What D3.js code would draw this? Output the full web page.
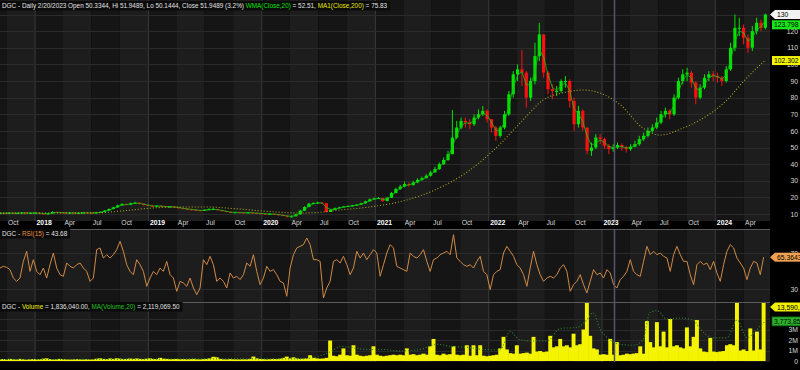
<!DOCTYPE html>
<html>
<head>
<meta charset="utf-8">
<script src="https://cdn.jsdelivr.net/npm/d3@7/dist/d3.min.js"></script>
<style>
  body { margin: 0; background: #000; }
  svg { display: block; font-family: "Liberation Sans", Arial, sans-serif; }
</style>
</head>
<body>
<div id="chart"></div>
<script>
// price candles, one every 14 days (open = previous close)
var candleStart = "2017-09-11";
var candleStep = 14;
var closes = [10.6,10.5,10.7,10.4,10.6,10.8,10.5,10.6,10.7,10.4,10.1,10.3,11.2,11.0,10.8,10.6,10.7,10.5,10.6,10.8,10.7,10.6,10.9,
  11.2,12.0,13.0,14.0,15.2,16.0,15.6,16.4,16.8,16.2,15.4,15.0,14.6,14.9,14.7,14.2,14.5,14.1,13.5,13.2,12.8,12.6,12.3,12.0,12.5,12.9,13.0,
  12.3,11.8,11.3,10.8,11.0,10.9,10.7,10.9,10.6,10.4,10.2,10.0,10.1,9.8,9.5,9.0,8.4,8.6,9.8,12.0,14.2,16.2,16.6,16.9,16.5,
  11.2,12.6,13.5,14.0,14.5,14.8,15.1,15.6,16.4,17.6,18.8,19.4,19.6,17.8,19.8,22.6,25.0,
  26.5,28.0,27.5,29.0,30.5,31.5,33.0,35.0,37.0,40.0,42.5,46.0,
  56,62,66,65,64,68,70,72,67,62,57,62,70,82,94,97,95,80,90,105,118,95,85,84,84,90,90,78,64,72,62,48,50,56,55,
  51,49,50,51.5,50,49,50.5,52,55,57,60,62,65,70,72,70,80,90,94,95,89,80,86,92,94,93,92,90,97,110,122,122,116,110,120,125,122,130];
var highs = [10.9,10.8,11.0,10.8,10.9,11.1,10.9,10.9,11.0,10.8,10.5,10.6,11.6,11.4,11.1,10.9,11.0,10.9,10.9,11.1,11.0,10.9,11.3,
  11.5,12.4,13.4,14.4,15.6,16.5,16.3,16.9,17.3,17.0,16.3,15.7,15.3,15.4,15.2,14.9,14.9,14.7,14.3,13.8,13.5,13.1,12.8,12.5,12.9,13.4,13.5,
  13.1,12.4,11.9,11.4,11.3,11.3,11.1,11.2,11.0,10.8,10.6,10.4,10.5,10.3,10.0,9.7,9.2,9.2,10.2,12.5,14.7,16.7,17.1,17.4,17.2,
  16.5,13.0,13.9,14.4,14.9,15.2,15.5,16.0,16.8,18.0,19.3,19.9,20.2,19.7,20.3,23.2,25.8,
  27.5,29.5,29.0,30.0,31.5,32.5,34.0,36.0,38.5,41.0,44.0,48.0,
  72.5,66,68,68,67,70,73,75,73,67,63,63,72,84,96,100,108.6,96,92,113,125,118,96,88,87,91,93,91,80,75,73,62,53,58,58,
  56,52,52,53,52.5,51,52,54,57,59,62,64,68,72,74,73,82,92,97,98,96,90,88,94,96,96,95,93,99,113,130,128,124,118,123,128,127,130.5];
var lows = [10.3,10.2,10.4,10.1,10.3,10.5,10.2,10.3,10.4,10.0,9.8,10.0,10.3,10.7,10.5,10.3,10.4,10.2,10.3,10.5,10.4,10.3,10.5,
  10.7,11.0,11.8,12.8,13.8,15.0,15.2,15.3,16.0,15.8,15.0,14.7,14.2,14.3,14.3,13.9,13.9,13.7,13.2,12.9,12.5,12.2,11.9,11.7,11.8,12.3,12.6,
  12.1,11.5,11.0,10.5,10.6,10.6,10.4,10.5,10.3,10.1,9.9,9.7,9.7,9.5,9.1,8.6,7.8,8.0,8.5,9.6,11.8,14.0,16.0,16.3,16.0,
  11.0,11.2,12.5,13.4,14.0,14.4,14.7,15.1,15.5,16.3,17.5,18.7,19.0,17.3,17.6,19.6,22.4,
  24.5,26.0,26.5,27.0,28.5,30.0,31.5,32.5,35.0,36.5,39.5,42.0,
  46,55,61,62,61,63,67,69,65,59,54,56,61,69,80,90,87,74,78,88,102,92,82,79,81,83,86,74,60,62,60,46,45,49,52,
  49,46,47.5,49,48,47,48,50,51,54,56,59,61,64,68,67,69,79,88,90,86,76,79,85,90,90,89,87,89,96,108,117,112,107,108,118,120,121];

// rsi and volume samples, every ~10.74 days
var rsiStart = "2017-09-10";
var rsiStep = 10.74;
var rsiVals = [53.3,55.2,54.1,51.5,42.2,38.5,42.2,60.7,71.9,49.6,
  62.6,49.6,45.9,53.3,42.2,57.0,70.0,53.3,45.9,44.1,
  58.9,55.2,53.3,57.0,58.9,53.3,49.6,38.5,42.2,73.7,
  75.6,64.4,68.1,64.4,68.1,73.7,83.0,71.9,57.0,49.6,
  45.9,62.6,57.0,49.6,33.0,42.2,49.6,45.9,53.3,49.6,
  60.7,45.9,42.2,27.4,38.5,36.7,33.0,42.2,31.1,23.7,
  31.1,62.6,57.0,66.3,57.0,38.5,42.2,38.5,31.1,47.8,
  42.2,44.1,40.4,45.9,58.9,55.2,68.1,49.6,34.8,42.2,
  55.2,49.6,51.5,45.9,38.5,36.7,21.9,53.3,68.1,75.6,
  77.4,79.3,86.7,79.3,62.6,62.6,60.7,20.0,31.1,38.5,
  60.7,62.6,58.9,66.3,57.0,45.9,53.3,71.9,64.4,70.0,
  62.6,68.1,73.7,70.0,44.1,57.0,70.0,79.3,75.6,55.2,
  53.3,51.5,49.6,70.0,66.3,64.4,68.1,73.7,60.7,49.6,
  62.6,64.4,68.1,70.0,71.9,68.1,90.4,64.4,60.7,57.0,
  55.2,57.0,53.3,60.7,66.3,49.6,45.9,29.3,45.9,49.6,
  51.5,70.0,77.4,71.9,66.3,57.0,53.3,45.9,33.0,53.3,
  71.9,57.0,45.9,38.5,42.2,44.1,42.2,45.9,53.3,57.0,
  49.6,27.4,34.8,38.5,45.9,34.8,25.6,38.5,51.5,45.9,
  47.8,42.2,51.5,47.8,34.8,31.1,40.4,44.1,49.6,62.6,
  49.6,45.9,44.1,60.7,77.4,68.1,71.9,68.1,70.0,66.3,
  64.4,49.6,68.1,77.4,68.1,60.7,60.7,45.9,34.8,57.0,
  60.7,57.0,58.9,51.5,60.7,47.8,38.5,57.0,71.9,79.3,
  75.6,64.4,58.9,53.3,40.4,53.3,60.7,58.9,45.9,65.4];
// volume in millions
var volVals = [0.15,0.18,0.12,0.2,0.15,0.14,0.2,0.16,0.12,0.15,
  0.18,0.14,0.16,0.22,0.25,0.18,0.14,0.15,0.2,0.16,
  0.14,0.13,0.15,0.17,0.15,0.14,0.16,0.13,0.15,0.22,
  0.25,0.2,0.18,0.24,0.2,0.26,0.22,0.18,0.2,0.23,
  0.2,0.24,0.2,0.18,0.22,0.25,0.2,0.18,0.3,0.22,
  0.2,0.17,0.18,0.2,0.16,0.18,0.15,0.17,0.2,0.16,
  0.15,0.18,0.2,0.25,0.4,0.35,0.2,0.16,0.15,0.18,
  0.16,0.15,0.14,0.16,0.15,0.2,0.42,0.25,0.2,0.18,
  0.15,0.17,0.2,0.18,0.22,0.3,0.42,0.25,0.35,0.25,
  0.2,0.22,0.25,0.55,0.3,0.25,0.22,0.24,0.3,1.95,
  0.5,0.45,0.6,1.2,0.55,0.5,1.5,0.6,0.5,0.45,
  0.5,0.55,1.4,0.6,0.5,0.45,0.5,0.55,0.6,0.55,
  0.6,0.55,1.2,0.6,0.65,0.55,0.6,0.7,0.6,1.4,
  2.1,0.6,0.55,0.7,0.6,0.65,1.4,0.6,0.55,0.6,
  1.5,0.5,1.5,0.55,1.5,0.5,0.45,0.5,0.55,0.6,
  1.2,2.3,1.1,0.75,0.7,1.5,0.7,0.75,0.8,0.7,
  2.3,0.9,0.95,0.85,0.9,2.4,1.3,1.4,2.1,1.4,
  1.5,1.3,2.6,1.5,1.6,3.0,6.0,2.4,1.2,1.1,
  0.6,0.65,0.6,2.1,0.6,1.8,0.55,0.6,0.7,0.65,
  0.7,0.75,1.4,0.7,3.8,1.8,1.3,3.7,1.4,2.8,
  1.3,4.0,1.4,1.5,1.3,1.2,3.2,1.4,2.3,3.9,
  1.2,0.9,0.85,2.2,0.9,0.85,0.9,0.95,1.5,1.6,
  1.5,6.0,1.0,1.1,0.95,3.1,1.0,2.8,1.1,13.59];

// 200 day moving average (dotted yellow)
var maDates = ["2017-09-10","2018-02-18","2018-07-29","2018-10-18","2019-01-06","2019-03-28","2019-07-09","2019-10-07","2020-01-18","2020-05-03","2020-07-07","2020-08-17","2020-12-05","2021-03-21","2021-07-06","2021-11-02","2022-01-28","2022-04-21","2022-06-25","2022-09-10","2022-11-01","2022-12-25","2023-02-28","2023-05-13","2023-07-07","2023-09-19","2023-11-12","2024-02-07","2024-03-30","2024-05-24","2024-06-09"];
var maVals = [10.5,10.6,10.8,12.0,13.5,14.2,14.2,13.2,11.6,10.6,11.0,12.0,14.0,17.4,24.0,36.5,50.3,66.5,78.5,83.4,84.6,82.8,75.8,61.7,57.5,61.7,66.5,78.5,89.4,99.6,102.3];

// volume MA(20) (dotted green), millions
var volMaDates = ["2017-09-10","2018-07-29","2019-06-16","2020-05-03","2020-08-17","2020-09-09","2020-10-11","2020-12-05","2021-01-25","2021-03-21","2021-05-25","2021-07-18","2021-08-29","2021-10-23","2021-12-14","2022-02-06","2022-03-11","2022-04-12","2022-05-24","2022-07-08","2022-08-19","2022-10-12","2022-11-13","2022-12-03","2022-12-25","2023-01-27","2023-02-28","2023-04-11","2023-05-13","2023-06-04","2023-06-27","2023-07-29","2023-09-09","2023-10-21","2023-11-12","2023-12-24","2024-02-07","2024-03-11","2024-04-12","2024-05-01","2024-05-24","2024-06-09"];
var volMaVals = [0.15,0.15,0.2,0.2,1.0,1.4,1.3,1.1,1.1,0.95,1.1,1.6,1.4,1.3,1.1,1.05,2.8,2.0,1.9,1.9,3.1,3.2,3.9,4.6,3.1,2.0,1.6,1.5,2.0,4.6,4.8,4.0,4.1,3.9,3.1,2.2,2.2,3.9,2.2,2.6,3.3,3.77];

var priceTicks = [10,20,30,40,50,60,70,80,90,100,110,120,130];
var rsiTicks = [30,70];
var volTicks = [0,1,2,3,4];
var volTickLabels = ["0","1M","2M","3M","4M"];
var crossDate = "2023-02-08";

// ---- layout ----
var w = 800, h = 370, plotR = 770;
var pTop = 0, pBot = 221, rTop = 229, rBot = 302, vTop = 302, vBot = 362;
var fs = 6.8;    // axis text
var capFs = 6.4; // panel captions

var parse = d3.timeParse("%Y-%m-%d");
var day = 864e5;

var svg = d3.select("#chart").append("svg").attr("width", w).attr("height", h);
svg.append("rect").attr("width", w).attr("height", h).attr("fill", "#000");

var x = d3.scaleTime().domain([new Date(2017, 8, 10), new Date(2024, 5, 25)]).range([0, plotR]);
var yP = d3.scaleLinear().domain([10, 130]).range([214, 14.5]);
var yR = d3.scaleLinear().domain([30, 70]).range([289, 253]);
var yV = d3.scaleLinear().domain([0, 3]).range([361, 329.5]);

var quarters = d3.timeMonth.every(3).range(new Date(2017, 6, 1), new Date(2024, 9, 1));
var years = d3.timeYear.range(new Date(2018, 0, 1), new Date(2025, 0, 1));

function makePanel(name, top, bottom) {
  svg.append("clipPath").attr("id", "clip-" + name)
    .append("rect").attr("x", 0).attr("y", top).attr("width", plotR).attr("height", bottom - top);
  var g = svg.append("g").attr("clip-path", "url(#clip-" + name + ")");
  g.selectAll("rect.band").data(quarters).enter().append("rect")
    .attr("class", "band")
    .attr("x", function(d) { return x(d); })
    .attr("width", function(d) { return x(d3.timeMonth.offset(d, 3)) - x(d); })
    .attr("y", top).attr("height", bottom - top)
    .attr("fill", function(d) { return d.getMonth() % 6 === 3 ? "#1d1d1d" : "#151515"; });
  g.selectAll("line.yr").data(years).enter().append("line")
    .attr("x1", function(d) { return x(d); }).attr("x2", function(d) { return x(d); })
    .attr("y1", top).attr("y2", bottom)
    .attr("stroke", "#3a3a3a").attr("stroke-width", 1);
  return g;
}

function hGrid(g, vals, scale) {
  g.selectAll(null).data(vals).enter().append("line")
    .attr("x1", 0).attr("x2", plotR)
    .attr("y1", function(d) { return Math.round(scale(d)) + 0.5; })
    .attr("y2", function(d) { return Math.round(scale(d)) + 0.5; })
    .attr("stroke", "#2b2b2b").attr("stroke-width", 1);
}

// ---- price panel ----
var gp = makePanel("price", pTop, pBot);
hGrid(gp, priceTicks, yP);

var cStart = parse(candleStart);
var candles = closes.map(function(c, i) {
  var o = i > 0 ? closes[i - 1] : c;
  return { date: new Date(+cStart + i * candleStep * day), o: o, c: c,
           hi: Math.max(highs[i], o, c), lo: Math.min(lows[i], o, c) };
});
var bw = 3.2;
var colorOf = function(d) { return d.c >= d.o ? "#00e400" : "#ff1010"; };

gp.selectAll("line.wick").data(candles).enter().append("line")
  .attr("x1", function(d) { return x(d.date); }).attr("x2", function(d) { return x(d.date); })
  .attr("y1", function(d) { return yP(d.hi); }).attr("y2", function(d) { return yP(d.lo); })
  .attr("stroke", colorOf).attr("stroke-width", 1);
gp.selectAll("rect.body").data(candles).enter().append("rect")
  .attr("x", function(d) { return x(d.date) - bw / 2; })
  .attr("width", bw)
  .attr("y", function(d) { return yP(Math.max(d.o, d.c)); })
  .attr("height", function(d) { return Math.max(1, Math.abs(yP(d.o) - yP(d.c))); })
  .attr("fill", colorOf);

// wma line from the closes (weights 1,2,3)
var wma = candles.map(function(d, i) {
  var a = closes[Math.max(0, i - 2)], b = closes[Math.max(0, i - 1)], c = closes[i];
  return { date: d.date, v: (a + 2 * b + 3 * c) / 6 };
});
gp.append("path").datum(wma)
  .attr("fill", "none").attr("stroke", "#16c016").attr("stroke-width", 0.8)
  .attr("d", d3.line().x(function(d) { return x(d.date); }).y(function(d) { return yP(d.v); }));

var maData = maDates.map(function(d, i) { return { date: parse(d), v: maVals[i] }; });
gp.append("path").datum(maData)
  .attr("fill", "none").attr("stroke", "#a8a820").attr("stroke-width", 1.1)
  .attr("stroke-dasharray", "1,2")
  .attr("d", d3.line().curve(d3.curveMonotoneX).x(function(d) { return x(d.date); }).y(function(d) { return yP(d.v); }));

// ---- rsi panel ----
var gr = makePanel("rsi", rTop, rBot);
hGrid(gr, rsiTicks, yR);
var rStart = parse(rsiStart);
var rsiData = rsiVals.map(function(v, k) { return { date: new Date(+rStart + k * rsiStep * day), v: v }; });
gr.append("path").datum(rsiData)
  .attr("fill", "none").attr("stroke", "#d08a45").attr("stroke-width", 1)
  .attr("d", d3.line().x(function(d) { return x(d.date); }).y(function(d) { return yR(d.v); }));

// ---- volume panel ----
var gv = makePanel("vol", vTop, vBot);
hGrid(gv, volTicks.slice(1), yV);
var volData = volVals.map(function(v, k) { return { date: new Date(+rStart + k * rsiStep * day), v: v }; });
var vw = x(new Date(+rStart + rsiStep * day)) - x(rStart);
gv.selectAll("rect.vol").data(volData).enter().append("rect")
  .attr("x", function(d) { return x(d.date) - vw / 2 - 0.3; })
  .attr("width", vw + 0.6)
  .attr("y", function(d) { return yV(d.v); })
  .attr("height", function(d) { return yV(0) - yV(d.v); })
  .attr("fill", "#f4f400");
var volMaData = volMaDates.map(function(d, i) { return { date: parse(d), v: volMaVals[i] }; });
gv.append("path").datum(volMaData)
  .attr("fill", "none").attr("stroke", "#2e8a2e").attr("stroke-width", 1.1)
  .attr("stroke-dasharray", "1,2")
  .attr("d", d3.line().curve(d3.curveMonotoneX).x(function(d) { return x(d.date); }).y(function(d) { return yV(d.v); }));

// crosshair
var cx = Math.round(x(parse(crossDate))) + 0.5;
[[pTop, pBot], [rTop, rBot], [vTop, vBot]].forEach(function(p) {
  svg.append("line").attr("x1", cx).attr("x2", cx).attr("y1", p[0]).attr("y2", p[1])
    .attr("stroke", "#55556e").attr("stroke-width", 1.5);
});

// panel separators
[rTop, vTop].forEach(function(yy) {
  svg.append("line").attr("x1", 0).attr("x2", plotR).attr("y1", yy + 0.5).attr("y2", yy + 0.5)
    .attr("stroke", "#5a5a5a").attr("stroke-width", 1);
});

// ---- date axis ----
var qTicks = d3.timeMonth.every(3).range(new Date(2017, 9, 1), new Date(2024, 5, 1));
var xa = svg.append("g").attr("transform", "translate(0," + pBot + ")")
  .call(d3.axisBottom(x).tickValues(qTicks).tickSize(0)
    .tickFormat(function(d) { return d.getMonth() === 0 ? d3.timeFormat("%Y")(d) : d3.timeFormat("%b")(d); }));
xa.select(".domain").remove();
xa.attr("font-family", null).attr("font-size", null);
xa.selectAll("text")
  .attr("text-anchor", "start").attr("x", 1).attr("y", 0).attr("dy", "0.62em")
  .style("font-size", fs + "px")
  .attr("fill", function(d) { return d.getMonth() === 0 ? "#ffffff" : "#d8d8d8"; })
  .attr("font-weight", function(d) { return d.getMonth() === 0 ? "bold" : "normal"; });

// ---- right axes ----
function rightAxis(scale, ticks, fmt) {
  var g = svg.append("g").attr("transform", "translate(" + plotR + ",0)")
    .call(d3.axisRight(scale).tickValues(ticks).tickSize(0).tickFormat(fmt));
  g.select(".domain").remove();
  g.attr("font-family", null).attr("font-size", null);
  g.selectAll("text").attr("x", 28).attr("text-anchor", "end")
    .attr("fill", "#d8d8d8").style("font-size", fs + "px");
}
rightAxis(yP, priceTicks, d3.format("d"));
rightAxis(yR, rsiTicks, d3.format("d"));
rightAxis(yV, volTicks, function(d, i) { return volTickLabels[i]; });

function badge(yy, txt, bg, arrow, border) {
  var g = svg.append("g").attr("transform", "translate(" + plotR + "," + yy + ")");
  var x0 = arrow ? 5 : 2;
  if (arrow) {
    g.append("path").attr("d", "M0,0 L" + x0 + ",-4.5 L" + x0 + ",4.5 Z").attr("fill", bg);
  }
  g.append("rect").attr("x", x0).attr("y", -4.5).attr("width", 40).attr("height", 9)
    .attr("fill", bg).attr("stroke", border || "none").attr("stroke-width", 0.8);
  g.append("text").attr("x", x0 + 2).attr("y", 2.5).style("font-size", fs + "px")
    .attr("fill", "#000").text(txt);
}
badge(yP(130), "130", "#f2f2f2", true);
badge(yP(123.798), "123.798", "#19e619", false);
badge(yP(102.302), "102.302", "#f5f500", false);
badge(yR(65.3643), "65.3643", "#f0a050", true);
badge(vTop + 5, "13,590,256", "#f0f000", true);
badge(yV(3.7738), "3,773,854", "#2cb02c", false, "#0c5a0c");

// ---- panel captions ----
function caption(yy, parts) {
  var g = svg.append("g");
  var bg = g.append("rect").attr("x", 0).attr("y", yy - 7).attr("height", 9.5).attr("fill", "#0b0b0b");
  var t = g.append("text").attr("x", 2).attr("y", yy).style("font-size", capFs + "px");
  parts.forEach(function(p) { t.append("tspan").attr("fill", p[1]).text(p[0]); });
  bg.attr("width", t.node().getComputedTextLength() + 5);
}
var txtCol = "#e2e2e2";
caption(8, [["DGC - Daily 2/20/2023 Open 50.3344, Hi 51.9489, Lo 50.1444, Close 51.9489 (3.2%) ", txtCol],
  ["WMA(Close,20)", "#00e000"], [" = 52.51, ", txtCol], ["MA1(Close,200)", "#e6e600"], [" = 75.83", txtCol]]);
caption(rTop + 7, [["DGC - ", txtCol], ["RSI(15)", "#e8903c"], [" = 43.68", txtCol]]);
caption(vTop + 7, [["DGC - ", txtCol], ["Volume", "#f0f000"], [" = 1,836,040.00, ", txtCol],
  ["MA(Volume,20)", "#20c020"], [" = 2,119,069.50", txtCol]]);
</script>
</body>
</html>
